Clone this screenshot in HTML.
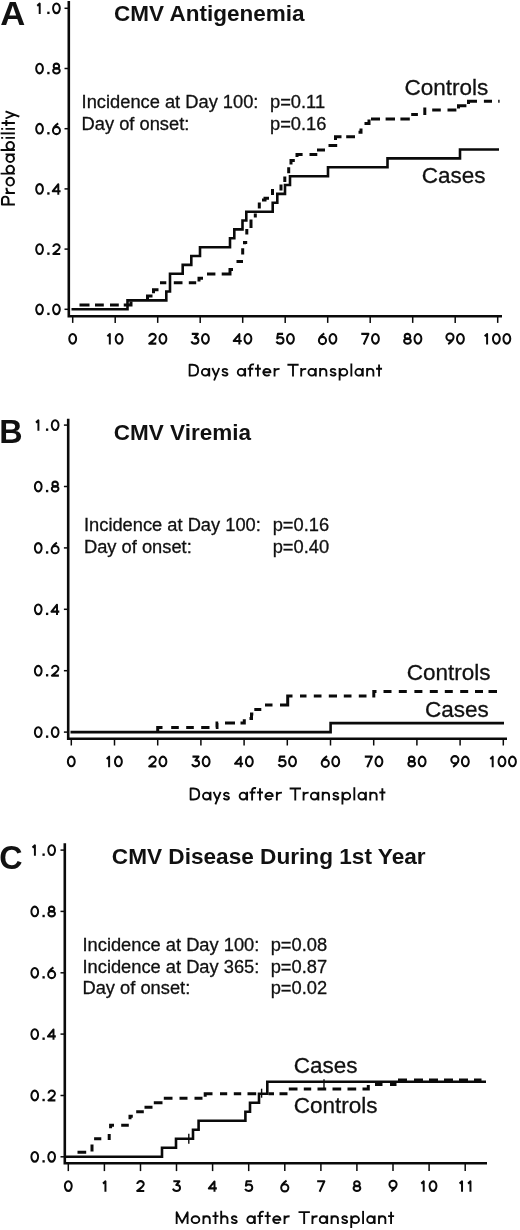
<!DOCTYPE html>
<html><head><meta charset="utf-8"><title>CMV</title>
<style>
html,body{margin:0;padding:0;background:#fff;}
body{width:520px;height:1230px;overflow:hidden;}
svg{display:block;filter:grayscale(1);}
text{font-family:"Liberation Sans",sans-serif;fill:#111;}
.an{font-size:18.3px;stroke:#111;stroke-width:0.3px;}
.ti{font-size:22.5px;font-weight:bold;}
.pl{font-size:34px;font-weight:bold;}
.lg{font-size:22.5px;stroke:#111;stroke-width:0.3px;}
.s{fill:none;stroke:#0a0a0a;stroke-width:2.6;stroke-linejoin:miter;}
.d{fill:none;stroke:#0a0a0a;stroke-width:2.9;stroke-dasharray:9 5.8;}
.e{fill:none;stroke:#0a0a0a;stroke-width:3.0;stroke-linejoin:miter;}
.a{fill:none;stroke:#0a0a0a;stroke-width:2.6;stroke-linecap:butt;}
.t{fill:none;stroke:#0a0a0a;stroke-width:1.5;}
.c{fill:none;stroke:#0a0a0a;stroke-width:1.4;}
.gl{fill:none;stroke:#0a0a0a;stroke-width:1.85;stroke-linejoin:round;}
.dg{fill:none;stroke:#0a0a0a;stroke-width:1.95;stroke-linejoin:round;}
</style></head><body>
<svg width="520" height="1230" viewBox="0 0 520 1230">
<rect width="520" height="1230" fill="#fff"/>
<!-- Panel A -->
<path class="a" d="M68.8,1 V316.2 H502"/>
<path class="t" d="M64.5,309.3 H68.8"/>
<g class="dg" transform="translate(34.40,315.05) scale(1.0,1.08)"><path transform="translate(0.00)" d="M8.53,-5.30 A3.38,4.48 0 1 0 1.77,-5.30 A3.38,4.48 0 1 0 8.53,-5.30 Z"/><path transform="translate(10.30)" d="M3.7,0 V-2.2" stroke-width="2.3"/><path transform="translate(16.90)" d="M8.53,-5.30 A3.38,4.48 0 1 0 1.77,-5.30 A3.38,4.48 0 1 0 8.53,-5.30 Z"/></g>
<path class="t" d="M64.5,249.1 H68.8"/>
<g class="dg" transform="translate(34.40,254.85) scale(1.0,1.08)"><path transform="translate(0.00)" d="M8.53,-5.30 A3.38,4.48 0 1 0 1.77,-5.30 A3.38,4.48 0 1 0 8.53,-5.30 Z"/><path transform="translate(10.30)" d="M3.7,0 V-2.2" stroke-width="2.3"/><path transform="translate(16.90)" d="M2.0,-7.2 A3.2,2.75 0 0 1 8.4,-7.0 C8.4,-5.4 6.8,-4.3 1.9,-0.78 H8.9"/></g>
<path class="t" d="M64.5,188.9 H68.8"/>
<g class="dg" transform="translate(34.40,194.65) scale(1.0,1.08)"><path transform="translate(0.00)" d="M8.53,-5.30 A3.38,4.48 0 1 0 1.77,-5.30 A3.38,4.48 0 1 0 8.53,-5.30 Z"/><path transform="translate(10.30)" d="M3.7,0 V-2.2" stroke-width="2.3"/><path transform="translate(16.90)" d="M7.0,0 V-9.6 L1.4,-3.2 H9.3"/></g>
<path class="t" d="M64.5,128.7 H68.8"/>
<g class="dg" transform="translate(34.40,134.45) scale(1.0,1.08)"><path transform="translate(0.00)" d="M8.53,-5.30 A3.38,4.48 0 1 0 1.77,-5.30 A3.38,4.48 0 1 0 8.53,-5.30 Z"/><path transform="translate(10.30)" d="M3.7,0 V-2.2" stroke-width="2.3"/><path transform="translate(16.90)" d="M6.9,-10.25 C4.0,-8.4 1.6,-6.0 1.6,-3.7 M8.70,-3.70 A3.55,3.35 0 1 0 1.60,-3.70 A3.55,3.35 0 1 0 8.70,-3.70 Z"/></g>
<path class="t" d="M64.5,68.5 H68.8"/>
<g class="dg" transform="translate(34.40,74.25) scale(1.0,1.08)"><path transform="translate(0.00)" d="M8.53,-5.30 A3.38,4.48 0 1 0 1.77,-5.30 A3.38,4.48 0 1 0 8.53,-5.30 Z"/><path transform="translate(10.30)" d="M3.7,0 V-2.2" stroke-width="2.3"/><path transform="translate(16.90)" d="M7.90,-7.50 A2.75,2.30 0 1 0 2.40,-7.50 A2.75,2.30 0 1 0 7.90,-7.50 Z M8.50,-3.20 A3.35,2.45 0 1 0 1.80,-3.20 A3.35,2.45 0 1 0 8.50,-3.20 Z"/></g>
<path class="t" d="M64.5,8.3 H68.8"/>
<g class="dg" transform="translate(35.40,14.05) scale(1.0,1.08)"><path transform="translate(0.00)" d="M1.9,-7.6 L4.3,-9.7 V0"/><path transform="translate(9.30)" d="M3.7,0 V-2.2" stroke-width="2.3"/><path transform="translate(15.90)" d="M8.53,-5.30 A3.38,4.48 0 1 0 1.77,-5.30 A3.38,4.48 0 1 0 8.53,-5.30 Z"/></g>
<path class="t" d="M72.7,316.2 V322.9"/>
<g class="dg" transform="translate(67.47,344.50) scale(1.015,1.08)"><path transform="translate(0.00)" d="M8.53,-5.30 A3.38,4.48 0 1 0 1.77,-5.30 A3.38,4.48 0 1 0 8.53,-5.30 Z"/></g>
<path class="t" d="M115.2,316.2 V322.9"/>
<g class="dg" transform="translate(105.46,344.50) scale(1.015,1.08)"><path transform="translate(0.00)" d="M1.9,-7.6 L4.3,-9.7 V0"/><path transform="translate(8.30)" d="M8.53,-5.30 A3.38,4.48 0 1 0 1.77,-5.30 A3.38,4.48 0 1 0 8.53,-5.30 Z"/></g>
<path class="t" d="M157.7,316.2 V322.9"/>
<g class="dg" transform="translate(147.25,344.50) scale(1.015,1.08)"><path transform="translate(0.00)" d="M2.0,-7.2 A3.2,2.75 0 0 1 8.4,-7.0 C8.4,-5.4 6.8,-4.3 1.9,-0.78 H8.9"/><path transform="translate(10.30)" d="M8.53,-5.30 A3.38,4.48 0 1 0 1.77,-5.30 A3.38,4.48 0 1 0 8.53,-5.30 Z"/></g>
<path class="t" d="M200.2,316.2 V322.9"/>
<g class="dg" transform="translate(189.75,344.50) scale(1.015,1.08)"><path transform="translate(0.00)" d="M2.0,-9.82 H8.0 L4.9,-6.3 C7.1,-6.6 8.6,-5.3 8.6,-3.6 C8.6,-1.9 7.2,-0.78 5.1,-0.78 C3.4,-0.78 2.1,-1.6 1.6,-2.9"/><path transform="translate(10.30)" d="M8.53,-5.30 A3.38,4.48 0 1 0 1.77,-5.30 A3.38,4.48 0 1 0 8.53,-5.30 Z"/></g>
<path class="t" d="M242.7,316.2 V322.9"/>
<g class="dg" transform="translate(232.25,344.50) scale(1.015,1.08)"><path transform="translate(0.00)" d="M7.0,0 V-9.6 L1.4,-3.2 H9.3"/><path transform="translate(10.30)" d="M8.53,-5.30 A3.38,4.48 0 1 0 1.77,-5.30 A3.38,4.48 0 1 0 8.53,-5.30 Z"/></g>
<path class="t" d="M285.2,316.2 V322.9"/>
<g class="dg" transform="translate(274.75,344.50) scale(1.015,1.08)"><path transform="translate(0.00)" d="M8.2,-9.82 H3.1 L2.4,-5.7 C3.3,-6.4 4.2,-6.7 5.2,-6.7 C7.2,-6.7 8.7,-5.5 8.7,-3.7 C8.7,-1.9 7.2,-0.78 5.1,-0.78 C3.5,-0.78 2.2,-1.5 1.6,-2.7"/><path transform="translate(10.30)" d="M8.53,-5.30 A3.38,4.48 0 1 0 1.77,-5.30 A3.38,4.48 0 1 0 8.53,-5.30 Z"/></g>
<path class="t" d="M327.7,316.2 V322.9"/>
<g class="dg" transform="translate(317.25,344.50) scale(1.015,1.08)"><path transform="translate(0.00)" d="M6.9,-10.25 C4.0,-8.4 1.6,-6.0 1.6,-3.7 M8.70,-3.70 A3.55,3.35 0 1 0 1.60,-3.70 A3.55,3.35 0 1 0 8.70,-3.70 Z"/><path transform="translate(10.30)" d="M8.53,-5.30 A3.38,4.48 0 1 0 1.77,-5.30 A3.38,4.48 0 1 0 8.53,-5.30 Z"/></g>
<path class="t" d="M370.2,316.2 V322.9"/>
<g class="dg" transform="translate(359.75,344.50) scale(1.015,1.08)"><path transform="translate(0.00)" d="M1.5,-9.82 H8.6 L3.9,0"/><path transform="translate(10.30)" d="M8.53,-5.30 A3.38,4.48 0 1 0 1.77,-5.30 A3.38,4.48 0 1 0 8.53,-5.30 Z"/></g>
<path class="t" d="M412.7,316.2 V322.9"/>
<g class="dg" transform="translate(402.25,344.50) scale(1.015,1.08)"><path transform="translate(0.00)" d="M7.90,-7.50 A2.75,2.30 0 1 0 2.40,-7.50 A2.75,2.30 0 1 0 7.90,-7.50 Z M8.50,-3.20 A3.35,2.45 0 1 0 1.80,-3.20 A3.35,2.45 0 1 0 8.50,-3.20 Z"/><path transform="translate(10.30)" d="M8.53,-5.30 A3.38,4.48 0 1 0 1.77,-5.30 A3.38,4.48 0 1 0 8.53,-5.30 Z"/></g>
<path class="t" d="M455.2,316.2 V322.9"/>
<g class="dg" transform="translate(444.75,344.50) scale(1.015,1.08)"><path transform="translate(0.00)" d="M3.4,-0.35 C6.3,-2.2 8.7,-4.6 8.7,-6.9 M8.70,-6.90 A3.55,3.35 0 1 0 1.60,-6.90 A3.55,3.35 0 1 0 8.70,-6.90 Z"/><path transform="translate(10.30)" d="M8.53,-5.30 A3.38,4.48 0 1 0 1.77,-5.30 A3.38,4.48 0 1 0 8.53,-5.30 Z"/></g>
<path class="t" d="M497.7,316.2 V322.9"/>
<g class="dg" transform="translate(482.73,344.50) scale(1.015,1.08)"><path transform="translate(0.00)" d="M1.9,-7.6 L4.3,-9.7 V0"/><path transform="translate(8.30)" d="M8.53,-5.30 A3.38,4.48 0 1 0 1.77,-5.30 A3.38,4.48 0 1 0 8.53,-5.30 Z"/><path transform="translate(18.60)" d="M8.53,-5.30 A3.38,4.48 0 1 0 1.77,-5.30 A3.38,4.48 0 1 0 8.53,-5.30 Z"/></g>
<text class="pl" transform="translate(0.30,24.70) scale(1.02,1)">A</text>
<text class="ti" transform="translate(114.00,20.60) scale(1,1)">CMV Antigenemia</text>
<text class="an" transform="translate(81.60,107.50) scale(1,1)">Incidence at Day 100:</text>
<text class="an" transform="translate(270.00,107.50) scale(1,1)">p=0.11</text>
<text class="an" transform="translate(81.60,129.50) scale(1,1)">Day of onset:</text>
<text class="an" transform="translate(270.00,129.50) scale(1,1)">p=0.16</text>
<text class="lg" transform="translate(404.55,94.80) scale(1,1)">Controls</text>
<text class="lg" transform="translate(421.75,183.00) scale(1,1)">Cases</text>
<g class="gl" transform="translate(14.90,205.30) scale(1.1,1) rotate(-90) scale(1.026,1)"><path transform="translate(0.00)" d="M0.85,0 V-11.75 H4.9 C7.3,-11.75 8.45,-10.5 8.45,-8.8 C8.45,-7.1 7.3,-5.85 4.9,-5.85 H0.85"/><path transform="translate(11.10)" d="M0.85,0 V-8.5 M0.85,-4.3 C0.85,-6.5 2.5,-7.65 5.9,-7.65"/><path transform="translate(18.30)" d="M8.55,-4.25 A3.85,3.40 0 1 0 0.85,-4.25 A3.85,3.40 0 1 0 8.55,-4.25 Z"/><path transform="translate(30.00)" d="M0.85,0 V-13.0 M8.55,-4.25 A3.60,3.40 0 1 0 1.35,-4.25 A3.60,3.40 0 1 0 8.55,-4.25 Z"/><path transform="translate(41.40)" d="M7.75,-4.25 A3.45,3.40 0 1 0 0.85,-4.25 A3.45,3.40 0 1 0 7.75,-4.25 Z M8.25,0 V-8.5"/><path transform="translate(53.10)" d="M0.85,0 V-13.0 M8.55,-4.25 A3.60,3.40 0 1 0 1.35,-4.25 A3.60,3.40 0 1 0 8.55,-4.25 Z"/><path transform="translate(64.80)" d="M0.9,0 V-8.5 M0.9,-10.7 V-12.5"/><path transform="translate(69.20)" d="M0.9,0 V-13.0"/><path transform="translate(73.60)" d="M0.9,0 V-8.5 M0.9,-10.7 V-12.5"/><path transform="translate(77.20)" d="M3.0,-12.1 V0 M0,-7.8 H6.0"/><path transform="translate(83.80)" d="M0.8,-8.5 L4.6,-0.2 M7.7,-8.5 L2.6,4.0"/></g>
<g class="gl" transform="translate(188.75,376.50)"><path transform="translate(0.00)" d="M0.85,-0.85 V-11.75 H3.8 C7.4,-11.75 9.4,-9.4 9.4,-6.3 C9.4,-3.2 7.4,-0.85 3.8,-0.85 Z"/><path transform="translate(12.25)" d="M7.75,-4.25 A3.45,3.40 0 1 0 0.85,-4.25 A3.45,3.40 0 1 0 7.75,-4.25 Z M8.25,0 V-8.5"/><path transform="translate(22.75)" d="M0.8,-8.5 L4.6,-0.2 M7.7,-8.5 L2.6,4.0"/><path transform="translate(32.70)" d="M6.0,-6.1 C5.6,-7.15 4.7,-7.65 3.5,-7.65 C2.1,-7.65 1.15,-6.9 1.15,-5.85 C1.15,-4.8 2.0,-4.5 3.5,-4.15 C5.2,-3.75 6.05,-3.3 6.05,-2.4 C6.05,-1.4 5.0,-0.85 3.45,-0.85 C2.1,-0.85 1.2,-1.45 0.85,-2.5"/><path transform="translate(48.15)" d="M7.75,-4.25 A3.45,3.40 0 1 0 0.85,-4.25 A3.45,3.40 0 1 0 7.75,-4.25 Z M8.25,0 V-8.5"/><path transform="translate(58.85)" d="M6.4,-12.0 C5.9,-12.15 5.5,-12.2 5.0,-12.2 C3.4,-12.2 2.5,-11.2 2.5,-9.6 V0 M0,-7.8 H5.7"/><path transform="translate(66.15)" d="M3.0,-12.1 V0 M0,-7.8 H6.0"/><path transform="translate(73.65)" d="M0.85,-4.25 H8.15 A3.65,3.4 0 1 0 7.2,-1.95"/><path transform="translate(84.95)" d="M0.85,0 V-8.5 M0.85,-4.3 C0.85,-6.5 2.5,-7.65 5.9,-7.65"/><path transform="translate(98.65)" d="M0,-11.75 H11.25 M5.6,-11.75 V0"/><path transform="translate(111.60)" d="M0.85,0 V-8.5 M0.85,-4.3 C0.85,-6.5 2.5,-7.65 5.9,-7.65"/><path transform="translate(118.80)" d="M7.75,-4.25 A3.45,3.40 0 1 0 0.85,-4.25 A3.45,3.40 0 1 0 7.75,-4.25 Z M8.25,0 V-8.5"/><path transform="translate(130.50)" d="M0.85,0 V-8.5 M0.85,-4.6 C0.85,-6.6 2.2,-7.65 4.0,-7.65 C5.8,-7.65 7.15,-6.6 7.15,-4.6 V0"/><path transform="translate(140.80)" d="M6.0,-6.1 C5.6,-7.15 4.7,-7.65 3.5,-7.65 C2.1,-7.65 1.15,-6.9 1.15,-5.85 C1.15,-4.8 2.0,-4.5 3.5,-4.15 C5.2,-3.75 6.05,-3.3 6.05,-2.4 C6.05,-1.4 5.0,-0.85 3.45,-0.85 C2.1,-0.85 1.2,-1.45 0.85,-2.5"/><path transform="translate(150.00)" d="M0.85,-8.5 V4.0 M8.55,-4.25 A3.60,3.40 0 1 0 1.35,-4.25 A3.60,3.40 0 1 0 8.55,-4.25 Z"/><path transform="translate(161.70)" d="M0.9,0 V-13.0"/><path transform="translate(165.80)" d="M7.75,-4.25 A3.45,3.40 0 1 0 0.85,-4.25 A3.45,3.40 0 1 0 7.75,-4.25 Z M8.25,0 V-8.5"/><path transform="translate(177.50)" d="M0.85,0 V-8.5 M0.85,-4.6 C0.85,-6.6 2.2,-7.65 4.0,-7.65 C5.8,-7.65 7.15,-6.6 7.15,-4.6 V0"/><path transform="translate(187.30)" d="M3.0,-12.1 V0 M0,-7.8 H6.0"/></g>
<path class="s" d="M71.5,309.3H127.5V300.4H166.3V291.5H170.0V273.8H182.7V264.9H191.3V256.0H200.0V247.2H230.0V238.3H234.3V229.4H242.5V220.5H246.3V211.7H272.7V202.8H277.3V193.9H285.0V185.0H290.0V176.2H328.0V167.3H387.5V158.4H460.0V149.5H499.0"/>
<path class="e" d="M79.5,304.9H89.5M95.0,304.9H103.8M110.0,304.9H118.8M123.75,304.9H131V301.5M147.5,299.5V295.9H152.5 M153.5,293.2V289.8H158.5 M160,282.7H166.3M173.8,282.7H182.5M188.8,282.7H196.2M199,281.5V278.3H203M207.0,273.9H215.4M221.7,273.9H230V269.5H233 M236.5,261.4H243 M242.7,254.5V248.2 M244.5,244.2V242.6H247.2 M246.8,234.4V229 M251,228V219.6 M255.3,217.5V213.5 M259.3,208.5V202.5 M262,200H265V198.2H269 M272.5,195V189 M281,190.5V184.5 M284.8,182V176.4 M288.7,173.3V167.2 M291,164.6V160.5H294.8 M297,157V154.4H302.6M309.5,154.4H317.3M318.5,151.5V150H325M328.5,145.5H337.2M335.5,140V136.7H341.5M346.2,136.7H355.0M358.5,132.2H361V128.5 M364.5,123.4H369V119.5M371.0,119.0H380.0M385.6,119.0H395.0M400.4,119.0H409.8M411.2,114.5H417.9M424.8,115V107.5M432.2,110.1H440.8M447.5,110.1H456.4M458.5,108.5V105.7H466.4 M468.5,104V101.3H477M483.9,101.3H492.0M498.2,101.3H499.6"/>
<!-- Panel B -->
<path class="a" d="M68.2,418.8 V738.8 H507"/>
<path class="t" d="M63.9,732.1 H68.2"/>
<g class="dg" transform="translate(33.10,737.85) scale(1.0,1.08)"><path transform="translate(0.00)" d="M8.53,-5.30 A3.38,4.48 0 1 0 1.77,-5.30 A3.38,4.48 0 1 0 8.53,-5.30 Z"/><path transform="translate(10.30)" d="M3.7,0 V-2.2" stroke-width="2.3"/><path transform="translate(16.90)" d="M8.53,-5.30 A3.38,4.48 0 1 0 1.77,-5.30 A3.38,4.48 0 1 0 8.53,-5.30 Z"/></g>
<path class="t" d="M63.9,670.7 H68.2"/>
<g class="dg" transform="translate(33.10,676.45) scale(1.0,1.08)"><path transform="translate(0.00)" d="M8.53,-5.30 A3.38,4.48 0 1 0 1.77,-5.30 A3.38,4.48 0 1 0 8.53,-5.30 Z"/><path transform="translate(10.30)" d="M3.7,0 V-2.2" stroke-width="2.3"/><path transform="translate(16.90)" d="M2.0,-7.2 A3.2,2.75 0 0 1 8.4,-7.0 C8.4,-5.4 6.8,-4.3 1.9,-0.78 H8.9"/></g>
<path class="t" d="M63.9,609.3 H68.2"/>
<g class="dg" transform="translate(33.10,615.05) scale(1.0,1.08)"><path transform="translate(0.00)" d="M8.53,-5.30 A3.38,4.48 0 1 0 1.77,-5.30 A3.38,4.48 0 1 0 8.53,-5.30 Z"/><path transform="translate(10.30)" d="M3.7,0 V-2.2" stroke-width="2.3"/><path transform="translate(16.90)" d="M7.0,0 V-9.6 L1.4,-3.2 H9.3"/></g>
<path class="t" d="M63.9,547.9 H68.2"/>
<g class="dg" transform="translate(33.10,553.65) scale(1.0,1.08)"><path transform="translate(0.00)" d="M8.53,-5.30 A3.38,4.48 0 1 0 1.77,-5.30 A3.38,4.48 0 1 0 8.53,-5.30 Z"/><path transform="translate(10.30)" d="M3.7,0 V-2.2" stroke-width="2.3"/><path transform="translate(16.90)" d="M6.9,-10.25 C4.0,-8.4 1.6,-6.0 1.6,-3.7 M8.70,-3.70 A3.55,3.35 0 1 0 1.60,-3.70 A3.55,3.35 0 1 0 8.70,-3.70 Z"/></g>
<path class="t" d="M63.9,486.5 H68.2"/>
<g class="dg" transform="translate(33.10,492.25) scale(1.0,1.08)"><path transform="translate(0.00)" d="M8.53,-5.30 A3.38,4.48 0 1 0 1.77,-5.30 A3.38,4.48 0 1 0 8.53,-5.30 Z"/><path transform="translate(10.30)" d="M3.7,0 V-2.2" stroke-width="2.3"/><path transform="translate(16.90)" d="M7.90,-7.50 A2.75,2.30 0 1 0 2.40,-7.50 A2.75,2.30 0 1 0 7.90,-7.50 Z M8.50,-3.20 A3.35,2.45 0 1 0 1.80,-3.20 A3.35,2.45 0 1 0 8.50,-3.20 Z"/></g>
<path class="t" d="M63.9,425.1 H68.2"/>
<g class="dg" transform="translate(34.10,430.85) scale(1.0,1.08)"><path transform="translate(0.00)" d="M1.9,-7.6 L4.3,-9.7 V0"/><path transform="translate(9.30)" d="M3.7,0 V-2.2" stroke-width="2.3"/><path transform="translate(15.90)" d="M8.53,-5.30 A3.38,4.48 0 1 0 1.77,-5.30 A3.38,4.48 0 1 0 8.53,-5.30 Z"/></g>
<path class="t" d="M71.3,738.8 V745.5"/>
<g class="dg" transform="translate(66.07,767.20) scale(1.015,1.08)"><path transform="translate(0.00)" d="M8.53,-5.30 A3.38,4.48 0 1 0 1.77,-5.30 A3.38,4.48 0 1 0 8.53,-5.30 Z"/></g>
<path class="t" d="M114.5,738.8 V745.5"/>
<g class="dg" transform="translate(104.76,767.20) scale(1.015,1.08)"><path transform="translate(0.00)" d="M1.9,-7.6 L4.3,-9.7 V0"/><path transform="translate(8.30)" d="M8.53,-5.30 A3.38,4.48 0 1 0 1.77,-5.30 A3.38,4.48 0 1 0 8.53,-5.30 Z"/></g>
<path class="t" d="M157.7,738.8 V745.5"/>
<g class="dg" transform="translate(147.25,767.20) scale(1.015,1.08)"><path transform="translate(0.00)" d="M2.0,-7.2 A3.2,2.75 0 0 1 8.4,-7.0 C8.4,-5.4 6.8,-4.3 1.9,-0.78 H8.9"/><path transform="translate(10.30)" d="M8.53,-5.30 A3.38,4.48 0 1 0 1.77,-5.30 A3.38,4.48 0 1 0 8.53,-5.30 Z"/></g>
<path class="t" d="M200.9,738.8 V745.5"/>
<g class="dg" transform="translate(190.45,767.20) scale(1.015,1.08)"><path transform="translate(0.00)" d="M2.0,-9.82 H8.0 L4.9,-6.3 C7.1,-6.6 8.6,-5.3 8.6,-3.6 C8.6,-1.9 7.2,-0.78 5.1,-0.78 C3.4,-0.78 2.1,-1.6 1.6,-2.9"/><path transform="translate(10.30)" d="M8.53,-5.30 A3.38,4.48 0 1 0 1.77,-5.30 A3.38,4.48 0 1 0 8.53,-5.30 Z"/></g>
<path class="t" d="M244.1,738.8 V745.5"/>
<g class="dg" transform="translate(233.65,767.20) scale(1.015,1.08)"><path transform="translate(0.00)" d="M7.0,0 V-9.6 L1.4,-3.2 H9.3"/><path transform="translate(10.30)" d="M8.53,-5.30 A3.38,4.48 0 1 0 1.77,-5.30 A3.38,4.48 0 1 0 8.53,-5.30 Z"/></g>
<path class="t" d="M287.3,738.8 V745.5"/>
<g class="dg" transform="translate(276.85,767.20) scale(1.015,1.08)"><path transform="translate(0.00)" d="M8.2,-9.82 H3.1 L2.4,-5.7 C3.3,-6.4 4.2,-6.7 5.2,-6.7 C7.2,-6.7 8.7,-5.5 8.7,-3.7 C8.7,-1.9 7.2,-0.78 5.1,-0.78 C3.5,-0.78 2.2,-1.5 1.6,-2.7"/><path transform="translate(10.30)" d="M8.53,-5.30 A3.38,4.48 0 1 0 1.77,-5.30 A3.38,4.48 0 1 0 8.53,-5.30 Z"/></g>
<path class="t" d="M330.5,738.8 V745.5"/>
<g class="dg" transform="translate(320.05,767.20) scale(1.015,1.08)"><path transform="translate(0.00)" d="M6.9,-10.25 C4.0,-8.4 1.6,-6.0 1.6,-3.7 M8.70,-3.70 A3.55,3.35 0 1 0 1.60,-3.70 A3.55,3.35 0 1 0 8.70,-3.70 Z"/><path transform="translate(10.30)" d="M8.53,-5.30 A3.38,4.48 0 1 0 1.77,-5.30 A3.38,4.48 0 1 0 8.53,-5.30 Z"/></g>
<path class="t" d="M373.7,738.8 V745.5"/>
<g class="dg" transform="translate(363.25,767.20) scale(1.015,1.08)"><path transform="translate(0.00)" d="M1.5,-9.82 H8.6 L3.9,0"/><path transform="translate(10.30)" d="M8.53,-5.30 A3.38,4.48 0 1 0 1.77,-5.30 A3.38,4.48 0 1 0 8.53,-5.30 Z"/></g>
<path class="t" d="M416.9,738.8 V745.5"/>
<g class="dg" transform="translate(406.45,767.20) scale(1.015,1.08)"><path transform="translate(0.00)" d="M7.90,-7.50 A2.75,2.30 0 1 0 2.40,-7.50 A2.75,2.30 0 1 0 7.90,-7.50 Z M8.50,-3.20 A3.35,2.45 0 1 0 1.80,-3.20 A3.35,2.45 0 1 0 8.50,-3.20 Z"/><path transform="translate(10.30)" d="M8.53,-5.30 A3.38,4.48 0 1 0 1.77,-5.30 A3.38,4.48 0 1 0 8.53,-5.30 Z"/></g>
<path class="t" d="M460.1,738.8 V745.5"/>
<g class="dg" transform="translate(449.65,767.20) scale(1.015,1.08)"><path transform="translate(0.00)" d="M3.4,-0.35 C6.3,-2.2 8.7,-4.6 8.7,-6.9 M8.70,-6.90 A3.55,3.35 0 1 0 1.60,-6.90 A3.55,3.35 0 1 0 8.70,-6.90 Z"/><path transform="translate(10.30)" d="M8.53,-5.30 A3.38,4.48 0 1 0 1.77,-5.30 A3.38,4.48 0 1 0 8.53,-5.30 Z"/></g>
<path class="t" d="M503.3,738.8 V745.5"/>
<g class="dg" transform="translate(488.33,767.20) scale(1.015,1.08)"><path transform="translate(0.00)" d="M1.9,-7.6 L4.3,-9.7 V0"/><path transform="translate(8.30)" d="M8.53,-5.30 A3.38,4.48 0 1 0 1.77,-5.30 A3.38,4.48 0 1 0 8.53,-5.30 Z"/><path transform="translate(18.60)" d="M8.53,-5.30 A3.38,4.48 0 1 0 1.77,-5.30 A3.38,4.48 0 1 0 8.53,-5.30 Z"/></g>
<text class="pl" transform="translate(-0.67,443.10) scale(0.95,1)">B</text>
<text class="ti" transform="translate(113.80,439.60) scale(1,1)">CMV Viremia</text>
<text class="an" transform="translate(84.00,531.30) scale(1,1)">Incidence at Day 100:</text>
<text class="an" transform="translate(272.70,531.30) scale(1,1)">p=0.16</text>
<text class="an" transform="translate(84.00,553.00) scale(1,1)">Day of onset:</text>
<text class="an" transform="translate(272.70,553.00) scale(1,1)">p=0.40</text>
<text class="lg" transform="translate(406.75,679.50) scale(1,1)">Controls</text>
<text class="lg" transform="translate(425.00,717.00) scale(1,1)">Cases</text>
<g class="gl" transform="translate(189.75,800.40) scale(1.012)"><path transform="translate(0.00)" d="M0.85,-0.85 V-11.75 H3.8 C7.4,-11.75 9.4,-9.4 9.4,-6.3 C9.4,-3.2 7.4,-0.85 3.8,-0.85 Z"/><path transform="translate(12.25)" d="M7.75,-4.25 A3.45,3.40 0 1 0 0.85,-4.25 A3.45,3.40 0 1 0 7.75,-4.25 Z M8.25,0 V-8.5"/><path transform="translate(22.75)" d="M0.8,-8.5 L4.6,-0.2 M7.7,-8.5 L2.6,4.0"/><path transform="translate(32.70)" d="M6.0,-6.1 C5.6,-7.15 4.7,-7.65 3.5,-7.65 C2.1,-7.65 1.15,-6.9 1.15,-5.85 C1.15,-4.8 2.0,-4.5 3.5,-4.15 C5.2,-3.75 6.05,-3.3 6.05,-2.4 C6.05,-1.4 5.0,-0.85 3.45,-0.85 C2.1,-0.85 1.2,-1.45 0.85,-2.5"/><path transform="translate(48.42)" d="M7.75,-4.25 A3.45,3.40 0 1 0 0.85,-4.25 A3.45,3.40 0 1 0 7.75,-4.25 Z M8.25,0 V-8.5"/><path transform="translate(59.12)" d="M6.4,-12.0 C5.9,-12.15 5.5,-12.2 5.0,-12.2 C3.4,-12.2 2.5,-11.2 2.5,-9.6 V0 M0,-7.8 H5.7"/><path transform="translate(66.42)" d="M3.0,-12.1 V0 M0,-7.8 H6.0"/><path transform="translate(73.92)" d="M0.85,-4.25 H8.15 A3.65,3.4 0 1 0 7.2,-1.95"/><path transform="translate(85.22)" d="M0.85,0 V-8.5 M0.85,-4.3 C0.85,-6.5 2.5,-7.65 5.9,-7.65"/><path transform="translate(98.67)" d="M0,-11.75 H11.25 M5.6,-11.75 V0"/><path transform="translate(111.62)" d="M0.85,0 V-8.5 M0.85,-4.3 C0.85,-6.5 2.5,-7.65 5.9,-7.65"/><path transform="translate(118.82)" d="M7.75,-4.25 A3.45,3.40 0 1 0 0.85,-4.25 A3.45,3.40 0 1 0 7.75,-4.25 Z M8.25,0 V-8.5"/><path transform="translate(130.52)" d="M0.85,0 V-8.5 M0.85,-4.6 C0.85,-6.6 2.2,-7.65 4.0,-7.65 C5.8,-7.65 7.15,-6.6 7.15,-4.6 V0"/><path transform="translate(140.82)" d="M6.0,-6.1 C5.6,-7.15 4.7,-7.65 3.5,-7.65 C2.1,-7.65 1.15,-6.9 1.15,-5.85 C1.15,-4.8 2.0,-4.5 3.5,-4.15 C5.2,-3.75 6.05,-3.3 6.05,-2.4 C6.05,-1.4 5.0,-0.85 3.45,-0.85 C2.1,-0.85 1.2,-1.45 0.85,-2.5"/><path transform="translate(150.02)" d="M0.85,-8.5 V4.0 M8.55,-4.25 A3.60,3.40 0 1 0 1.35,-4.25 A3.60,3.40 0 1 0 8.55,-4.25 Z"/><path transform="translate(161.72)" d="M0.9,0 V-13.0"/><path transform="translate(165.82)" d="M7.75,-4.25 A3.45,3.40 0 1 0 0.85,-4.25 A3.45,3.40 0 1 0 7.75,-4.25 Z M8.25,0 V-8.5"/><path transform="translate(177.52)" d="M0.85,0 V-8.5 M0.85,-4.6 C0.85,-6.6 2.2,-7.65 4.0,-7.65 C5.8,-7.65 7.15,-6.6 7.15,-4.6 V0"/><path transform="translate(187.32)" d="M3.0,-12.1 V0 M0,-7.8 H6.0"/></g>
<path class="s" d="M70.5,732.1H330.6V723.1H504.0"/>
<path class="e" d="M157.7,732.1V727.6H162.5M171.2,727.6H178.8M186.2,727.6H193.8M201.2,727.6H209.5M215.8,727.6H217V723.1H218.2M225.0,723.1H235.0M240.5,723.1H244.3V719.2M249.5,718.6H251.5V714.0H253.3M255.8,711V709.5H261.3M265.0,705.0H272.5M280,705.0H287.7V696.0H292.5M300.0,696.0H306.5M313.8,696.0H321.5M328.8,696.0H337.0M343.8,696.0H351.5M358.8,696.0H366.5M372.3,696.0H373.8V691.5H376.5M383.5,691.5H391.5M398.8,691.5H406.8M414.4,691.5H422.4M429.8,691.5H437.8M444.8,691.5H452.8M460.2,691.5H468.2M475.0,691.5H483.0M488.5,691.5H497.0"/>
<!-- Panel C -->
<path class="a" d="M64.8,843.2 V1163.2 H487"/>
<path class="t" d="M60.5,1156.8 H64.8"/>
<g class="dg" transform="translate(29.60,1162.55) scale(1.0,1.08)"><path transform="translate(0.00)" d="M8.53,-5.30 A3.38,4.48 0 1 0 1.77,-5.30 A3.38,4.48 0 1 0 8.53,-5.30 Z"/><path transform="translate(10.30)" d="M3.7,0 V-2.2" stroke-width="2.3"/><path transform="translate(16.90)" d="M8.53,-5.30 A3.38,4.48 0 1 0 1.77,-5.30 A3.38,4.48 0 1 0 8.53,-5.30 Z"/></g>
<path class="t" d="M60.5,1095.5 H64.8"/>
<g class="dg" transform="translate(29.60,1101.21) scale(1.0,1.08)"><path transform="translate(0.00)" d="M8.53,-5.30 A3.38,4.48 0 1 0 1.77,-5.30 A3.38,4.48 0 1 0 8.53,-5.30 Z"/><path transform="translate(10.30)" d="M3.7,0 V-2.2" stroke-width="2.3"/><path transform="translate(16.90)" d="M2.0,-7.2 A3.2,2.75 0 0 1 8.4,-7.0 C8.4,-5.4 6.8,-4.3 1.9,-0.78 H8.9"/></g>
<path class="t" d="M60.5,1034.1 H64.8"/>
<g class="dg" transform="translate(29.60,1039.87) scale(1.0,1.08)"><path transform="translate(0.00)" d="M8.53,-5.30 A3.38,4.48 0 1 0 1.77,-5.30 A3.38,4.48 0 1 0 8.53,-5.30 Z"/><path transform="translate(10.30)" d="M3.7,0 V-2.2" stroke-width="2.3"/><path transform="translate(16.90)" d="M7.0,0 V-9.6 L1.4,-3.2 H9.3"/></g>
<path class="t" d="M60.5,972.8 H64.8"/>
<g class="dg" transform="translate(29.60,978.53) scale(1.0,1.08)"><path transform="translate(0.00)" d="M8.53,-5.30 A3.38,4.48 0 1 0 1.77,-5.30 A3.38,4.48 0 1 0 8.53,-5.30 Z"/><path transform="translate(10.30)" d="M3.7,0 V-2.2" stroke-width="2.3"/><path transform="translate(16.90)" d="M6.9,-10.25 C4.0,-8.4 1.6,-6.0 1.6,-3.7 M8.70,-3.70 A3.55,3.35 0 1 0 1.60,-3.70 A3.55,3.35 0 1 0 8.70,-3.70 Z"/></g>
<path class="t" d="M60.5,911.4 H64.8"/>
<g class="dg" transform="translate(29.60,917.19) scale(1.0,1.08)"><path transform="translate(0.00)" d="M8.53,-5.30 A3.38,4.48 0 1 0 1.77,-5.30 A3.38,4.48 0 1 0 8.53,-5.30 Z"/><path transform="translate(10.30)" d="M3.7,0 V-2.2" stroke-width="2.3"/><path transform="translate(16.90)" d="M7.90,-7.50 A2.75,2.30 0 1 0 2.40,-7.50 A2.75,2.30 0 1 0 7.90,-7.50 Z M8.50,-3.20 A3.35,2.45 0 1 0 1.80,-3.20 A3.35,2.45 0 1 0 8.50,-3.20 Z"/></g>
<path class="t" d="M60.5,850.1 H64.8"/>
<g class="dg" transform="translate(30.60,855.85) scale(1.0,1.08)"><path transform="translate(0.00)" d="M1.9,-7.6 L4.3,-9.7 V0"/><path transform="translate(9.30)" d="M3.7,0 V-2.2" stroke-width="2.3"/><path transform="translate(15.90)" d="M8.53,-5.30 A3.38,4.48 0 1 0 1.77,-5.30 A3.38,4.48 0 1 0 8.53,-5.30 Z"/></g>
<path class="t" d="M68.3,1163.2 V1171.1"/>
<g class="dg" transform="translate(63.07,1191.80) scale(1.015,1.08)"><path transform="translate(0.00)" d="M8.53,-5.30 A3.38,4.48 0 1 0 1.77,-5.30 A3.38,4.48 0 1 0 8.53,-5.30 Z"/></g>
<path class="t" d="M104.4,1163.2 V1171.1"/>
<g class="dg" transform="translate(101.08,1191.80) scale(1.015,1.08)"><path transform="translate(0.00)" d="M1.9,-7.6 L4.3,-9.7 V0"/></g>
<path class="t" d="M140.5,1163.2 V1171.1"/>
<g class="dg" transform="translate(135.23,1191.80) scale(1.015,1.08)"><path transform="translate(0.00)" d="M2.0,-7.2 A3.2,2.75 0 0 1 8.4,-7.0 C8.4,-5.4 6.8,-4.3 1.9,-0.78 H8.9"/></g>
<path class="t" d="M176.5,1163.2 V1171.1"/>
<g class="dg" transform="translate(171.31,1191.80) scale(1.015,1.08)"><path transform="translate(0.00)" d="M2.0,-9.82 H8.0 L4.9,-6.3 C7.1,-6.6 8.6,-5.3 8.6,-3.6 C8.6,-1.9 7.2,-0.78 5.1,-0.78 C3.4,-0.78 2.1,-1.6 1.6,-2.9"/></g>
<path class="t" d="M212.6,1163.2 V1171.1"/>
<g class="dg" transform="translate(207.39,1191.80) scale(1.015,1.08)"><path transform="translate(0.00)" d="M7.0,0 V-9.6 L1.4,-3.2 H9.3"/></g>
<path class="t" d="M248.7,1163.2 V1171.1"/>
<g class="dg" transform="translate(243.47,1191.80) scale(1.015,1.08)"><path transform="translate(0.00)" d="M8.2,-9.82 H3.1 L2.4,-5.7 C3.3,-6.4 4.2,-6.7 5.2,-6.7 C7.2,-6.7 8.7,-5.5 8.7,-3.7 C8.7,-1.9 7.2,-0.78 5.1,-0.78 C3.5,-0.78 2.2,-1.5 1.6,-2.7"/></g>
<path class="t" d="M284.8,1163.2 V1171.1"/>
<g class="dg" transform="translate(279.55,1191.80) scale(1.015,1.08)"><path transform="translate(0.00)" d="M6.9,-10.25 C4.0,-8.4 1.6,-6.0 1.6,-3.7 M8.70,-3.70 A3.55,3.35 0 1 0 1.60,-3.70 A3.55,3.35 0 1 0 8.70,-3.70 Z"/></g>
<path class="t" d="M320.9,1163.2 V1171.1"/>
<g class="dg" transform="translate(315.63,1191.80) scale(1.015,1.08)"><path transform="translate(0.00)" d="M1.5,-9.82 H8.6 L3.9,0"/></g>
<path class="t" d="M356.9,1163.2 V1171.1"/>
<g class="dg" transform="translate(351.71,1191.80) scale(1.015,1.08)"><path transform="translate(0.00)" d="M7.90,-7.50 A2.75,2.30 0 1 0 2.40,-7.50 A2.75,2.30 0 1 0 7.90,-7.50 Z M8.50,-3.20 A3.35,2.45 0 1 0 1.80,-3.20 A3.35,2.45 0 1 0 8.50,-3.20 Z"/></g>
<path class="t" d="M393.0,1163.2 V1171.1"/>
<g class="dg" transform="translate(387.79,1191.80) scale(1.015,1.08)"><path transform="translate(0.00)" d="M3.4,-0.35 C6.3,-2.2 8.7,-4.6 8.7,-6.9 M8.70,-6.90 A3.55,3.35 0 1 0 1.60,-6.90 A3.55,3.35 0 1 0 8.70,-6.90 Z"/></g>
<path class="t" d="M429.1,1163.2 V1171.1"/>
<g class="dg" transform="translate(419.36,1191.80) scale(1.015,1.08)"><path transform="translate(0.00)" d="M1.9,-7.6 L4.3,-9.7 V0"/><path transform="translate(8.30)" d="M8.53,-5.30 A3.38,4.48 0 1 0 1.77,-5.30 A3.38,4.48 0 1 0 8.53,-5.30 Z"/></g>
<path class="t" d="M465.2,1163.2 V1171.1"/>
<g class="dg" transform="translate(457.67,1191.80) scale(1.015,1.08)"><path transform="translate(0.00)" d="M1.9,-7.6 L4.3,-9.7 V0"/><path transform="translate(8.30)" d="M1.9,-7.6 L4.3,-9.7 V0"/></g>
<text class="pl" transform="translate(-0.65,868.50) scale(0.95,1)">C</text>
<text class="ti" transform="translate(111.80,864.40) scale(1.006,1)">CMV Disease During 1st Year</text>
<text class="an" transform="translate(82.50,951.30) scale(1,1)">Incidence at Day 100:</text>
<text class="an" transform="translate(270.70,951.30) scale(1,1)">p=0.08</text>
<text class="an" transform="translate(82.50,973.00) scale(1,1)">Incidence at Day 365:</text>
<text class="an" transform="translate(270.70,973.00) scale(1,1)">p=0.87</text>
<text class="an" transform="translate(82.50,994.40) scale(1,1)">Day of onset:</text>
<text class="an" transform="translate(270.70,994.40) scale(1,1)">p=0.02</text>
<text class="lg" transform="translate(293.75,1073.00) scale(1,1)">Cases</text>
<text class="lg" transform="translate(293.75,1112.50) scale(1,1)">Controls</text>
<g class="gl" transform="translate(175.80,1224.00) scale(1.01)"><path transform="translate(0.00)" d="M0.85,0 V-11.6 L6.25,-1.3 L11.65,-11.6 V0"/><path transform="translate(14.80)" d="M8.55,-4.25 A3.85,3.40 0 1 0 0.85,-4.25 A3.85,3.40 0 1 0 8.55,-4.25 Z"/><path transform="translate(26.50)" d="M0.85,0 V-8.5 M0.85,-4.6 C0.85,-6.6 2.2,-7.65 4.0,-7.65 C5.8,-7.65 7.15,-6.6 7.15,-4.6 V0"/><path transform="translate(36.30)" d="M3.0,-12.1 V0 M0,-7.8 H6.0"/><path transform="translate(44.10)" d="M0.85,0 V-13.0 M0.85,-4.6 C0.85,-6.6 2.2,-7.65 3.95,-7.65 C5.7,-7.65 7.05,-6.6 7.05,-4.6 V0"/><path transform="translate(54.30)" d="M6.0,-6.1 C5.6,-7.15 4.7,-7.65 3.5,-7.65 C2.1,-7.65 1.15,-6.9 1.15,-5.85 C1.15,-4.8 2.0,-4.5 3.5,-4.15 C5.2,-3.75 6.05,-3.3 6.05,-2.4 C6.05,-1.4 5.0,-0.85 3.45,-0.85 C2.1,-0.85 1.2,-1.45 0.85,-2.5"/><path transform="translate(70.00)" d="M7.75,-4.25 A3.45,3.40 0 1 0 0.85,-4.25 A3.45,3.40 0 1 0 7.75,-4.25 Z M8.25,0 V-8.5"/><path transform="translate(80.70)" d="M6.4,-12.0 C5.9,-12.15 5.5,-12.2 5.0,-12.2 C3.4,-12.2 2.5,-11.2 2.5,-9.6 V0 M0,-7.8 H5.7"/><path transform="translate(88.00)" d="M3.0,-12.1 V0 M0,-7.8 H6.0"/><path transform="translate(95.50)" d="M0.85,-4.25 H8.15 A3.65,3.4 0 1 0 7.2,-1.95"/><path transform="translate(106.80)" d="M0.85,0 V-8.5 M0.85,-4.3 C0.85,-6.5 2.5,-7.65 5.9,-7.65"/><path transform="translate(121.49)" d="M0,-11.75 H11.25 M5.6,-11.75 V0"/><path transform="translate(134.44)" d="M0.85,0 V-8.5 M0.85,-4.3 C0.85,-6.5 2.5,-7.65 5.9,-7.65"/><path transform="translate(141.64)" d="M7.75,-4.25 A3.45,3.40 0 1 0 0.85,-4.25 A3.45,3.40 0 1 0 7.75,-4.25 Z M8.25,0 V-8.5"/><path transform="translate(153.34)" d="M0.85,0 V-8.5 M0.85,-4.6 C0.85,-6.6 2.2,-7.65 4.0,-7.65 C5.8,-7.65 7.15,-6.6 7.15,-4.6 V0"/><path transform="translate(163.64)" d="M6.0,-6.1 C5.6,-7.15 4.7,-7.65 3.5,-7.65 C2.1,-7.65 1.15,-6.9 1.15,-5.85 C1.15,-4.8 2.0,-4.5 3.5,-4.15 C5.2,-3.75 6.05,-3.3 6.05,-2.4 C6.05,-1.4 5.0,-0.85 3.45,-0.85 C2.1,-0.85 1.2,-1.45 0.85,-2.5"/><path transform="translate(172.84)" d="M0.85,-8.5 V4.0 M8.55,-4.25 A3.60,3.40 0 1 0 1.35,-4.25 A3.60,3.40 0 1 0 8.55,-4.25 Z"/><path transform="translate(184.54)" d="M0.9,0 V-13.0"/><path transform="translate(188.64)" d="M7.75,-4.25 A3.45,3.40 0 1 0 0.85,-4.25 A3.45,3.40 0 1 0 7.75,-4.25 Z M8.25,0 V-8.5"/><path transform="translate(200.34)" d="M0.85,0 V-8.5 M0.85,-4.6 C0.85,-6.6 2.2,-7.65 4.0,-7.65 C5.8,-7.65 7.15,-6.6 7.15,-4.6 V0"/><path transform="translate(210.14)" d="M3.0,-12.1 V0 M0,-7.8 H6.0"/></g>
<path class="s" d="M66.0,1156.8H162.0V1147.8H176.0V1138.8H193.0V1129.7H198.6V1120.7H245.4V1111.7H250.0V1102.7H259.0V1093.7H267.3V1081.8H486.0"/>
<path class="e" d="M77.5,1152.3H86.2M92,1151.5V1144.5 M95.6,1140.2V1138.8H101.3 M109.2,1140V1134 M110.6,1128.2V1125.2H114M121.2,1125.2H128.8M130,1119.2V1116.2H132.8M136.2,1111.7H143.8M144.5,1107.2H152.5M153.8,1102.7H162.5M163.8,1098.2H172.5M179.5,1098.2H187.5M194.5,1098.2H202.5M205.2,1096.8V1093.7H212.5M220.0,1093.7H227.2M233.8,1093.7H241.2M247.5,1093.7H256.2M268.5,1093.7H274.0M279.5,1093.7H287.5M288.8,1089.1H297.5M303.8,1089.1H311.2M317.5,1089.1H326.2M332.5,1089.1H341.2M347.5,1089.1H356.2M362.5,1089.1H368.3V1085M375.0,1084.6H382.5M390.0,1084.6H396.5M398.0,1080.1H407.0M414.0,1080.1H423.0M429.0,1080.1H438.0M444.0,1080.1H453.0M459.0,1080.1H468.0M474.0,1080.1H481.5"/>
<path class="c" d="M188.8,1133.8 V1143.8"/>
<path class="c" d="M261.6,1088.7 V1097.7"/>
<path class="c" d="M324,1079.3 V1089.0"/>
</svg></body></html>
